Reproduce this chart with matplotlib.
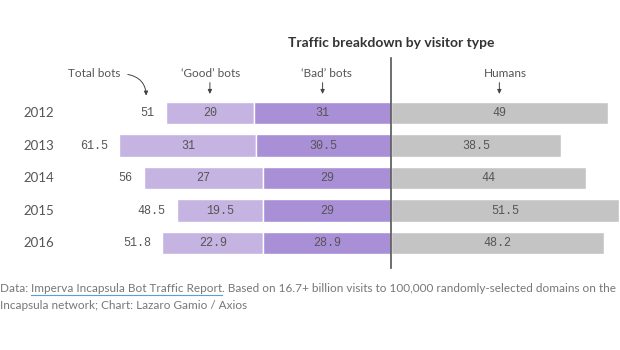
"""Traffic breakdown by visitor type: bots vs humans, 2012-2016."""

import matplotlib.pyplot as plt
from matplotlib.patches import FancyArrowPatch

# --- data -------------------------------------------------------------------

YEARS = ["2012", "2013", "2014", "2015", "2016"]
TOTAL_BOTS = [51, 61.5, 56, 48.5, 51.8]
GOOD_BOTS = [20, 31, 27, 19.5, 22.9]
BAD_BOTS = [31, 30.5, 29, 29, 28.9]
HUMANS = [49, 38.5, 44, 51.5, 48.2]

GOOD_COLOR = "#c5b3e2"
BAD_COLOR = "#a98fd6"
HUMAN_COLOR = "#c4c4c4"
TEXT_COLOR = "#555555"
SANS = ["Lato", "DejaVu Sans"]
MONO = ["Liberation Mono", "DejaVu Sans Mono"]


def fmt(v):
    return f"{v:g}"


def main():
    fig = plt.figure(figsize=(6.2, 3.5), dpi=100)
    ax = fig.add_axes([0, 0, 1, 1])
    ax.set_xlim(-88.5, 51.8)
    ax.set_ylim(7.29, -3.477)
    ax.axis("off")

    rows = range(len(YEARS))
    h = 0.7
    good_left = [-(g + b) for g, b in zip(GOOD_BOTS, BAD_BOTS)]
    bad_left = [-b for b in BAD_BOTS]
    ax.barh(rows, GOOD_BOTS, left=good_left, height=h, color=GOOD_COLOR,
            edgecolor="white", linewidth=1)
    ax.barh(rows, BAD_BOTS, left=bad_left, height=h, color=BAD_COLOR,
            edgecolor="white", linewidth=1)
    ax.barh(rows, HUMANS, left=0, height=h, color=HUMAN_COLOR,
            edgecolor="white", linewidth=1)

    num = dict(family=MONO, fontsize=8.5, color=TEXT_COLOR, va="center")
    for i, year in enumerate(YEARS):
        ax.text(-79.7, i, year, family=SANS, fontsize=9.5, color=TEXT_COLOR,
                ha="center", va="center")
        ax.text(good_left[i] - 2.5, i, fmt(TOTAL_BOTS[i]), ha="right", **num)
        ax.text(good_left[i] + GOOD_BOTS[i] / 2, i, fmt(GOOD_BOTS[i]),
                ha="center", **num)
        ax.text(-BAD_BOTS[i] / 2, i, fmt(BAD_BOTS[i]), ha="center", **num)
        ax.text(HUMANS[i] / 2, i, fmt(HUMANS[i]), ha="center", **num)

    # divider between bots and humans
    ax.plot([0, 0], [-1.69, 4.77], color="#555555", lw=1.2)

    ax.text(0, -2.15, "Traffic breakdown by visitor type", family=SANS,
            fontsize=10, fontweight="bold", color="#333333", ha="center",
            va="center")

    lab = dict(family=SANS, fontsize=8.5, color=TEXT_COLOR, ha="center",
               va="center")
    ax.text(-67.2, -1.23, "Total bots", **lab)
    ax.text(-40.8, -1.23, "\u2018Good\u2019 bots", **lab)
    ax.text(-14.7, -1.23, "\u2018Bad\u2019 bots", **lab)
    ax.text(25.8, -1.23, "Humans", **lab)

    arrow = dict(arrowstyle="-|>,head_length=2.5,head_width=1.2",
                 color="#444444", lw=0.7)
    for x in [good_left[0] + GOOD_BOTS[0] / 2, -BAD_BOTS[0] / 2, HUMANS[0] / 2]:
        ax.add_patch(FancyArrowPatch((x, -1.02), (x, -0.5), **arrow))
    ax.add_patch(FancyArrowPatch((-60.2, -1.2), (-55.4, -0.45),
                                 connectionstyle="arc3,rad=-0.45", **arrow))

    # footer with underlined source link
    fig.canvas.draw()
    renderer = fig.canvas.get_renderer()
    foot = dict(family=SANS, fontsize=8.5, color="#777777", va="baseline")
    y1 = 1 - 292 / 350
    t = fig.text(0.0, y1, "Data: ", **foot)
    x = t.get_window_extent(renderer).x1 / fig.bbox.width
    link = fig.text(x, y1, "Imperva Incapsula Bot Traffic Report", **foot)
    bb = link.get_window_extent(renderer)
    fig.add_artist(plt.Line2D([bb.x0 / fig.bbox.width, bb.x1 / fig.bbox.width],
                              [y1 - 2.5 / 350] * 2, color="#5aa0d8", lw=0.8))
    fig.text(bb.x1 / fig.bbox.width, y1,
             ". Based on 16.7+ billion visits to 100,000 randomly-selected "
             "domains on the", **foot)
    fig.text(0.0, 1 - 309 / 350,
             "Incapsula network; Chart: Lazaro Gamio / Axios", **foot)

    fig.savefig("out.png", dpi=100)


if __name__ == "__main__":
    main()
